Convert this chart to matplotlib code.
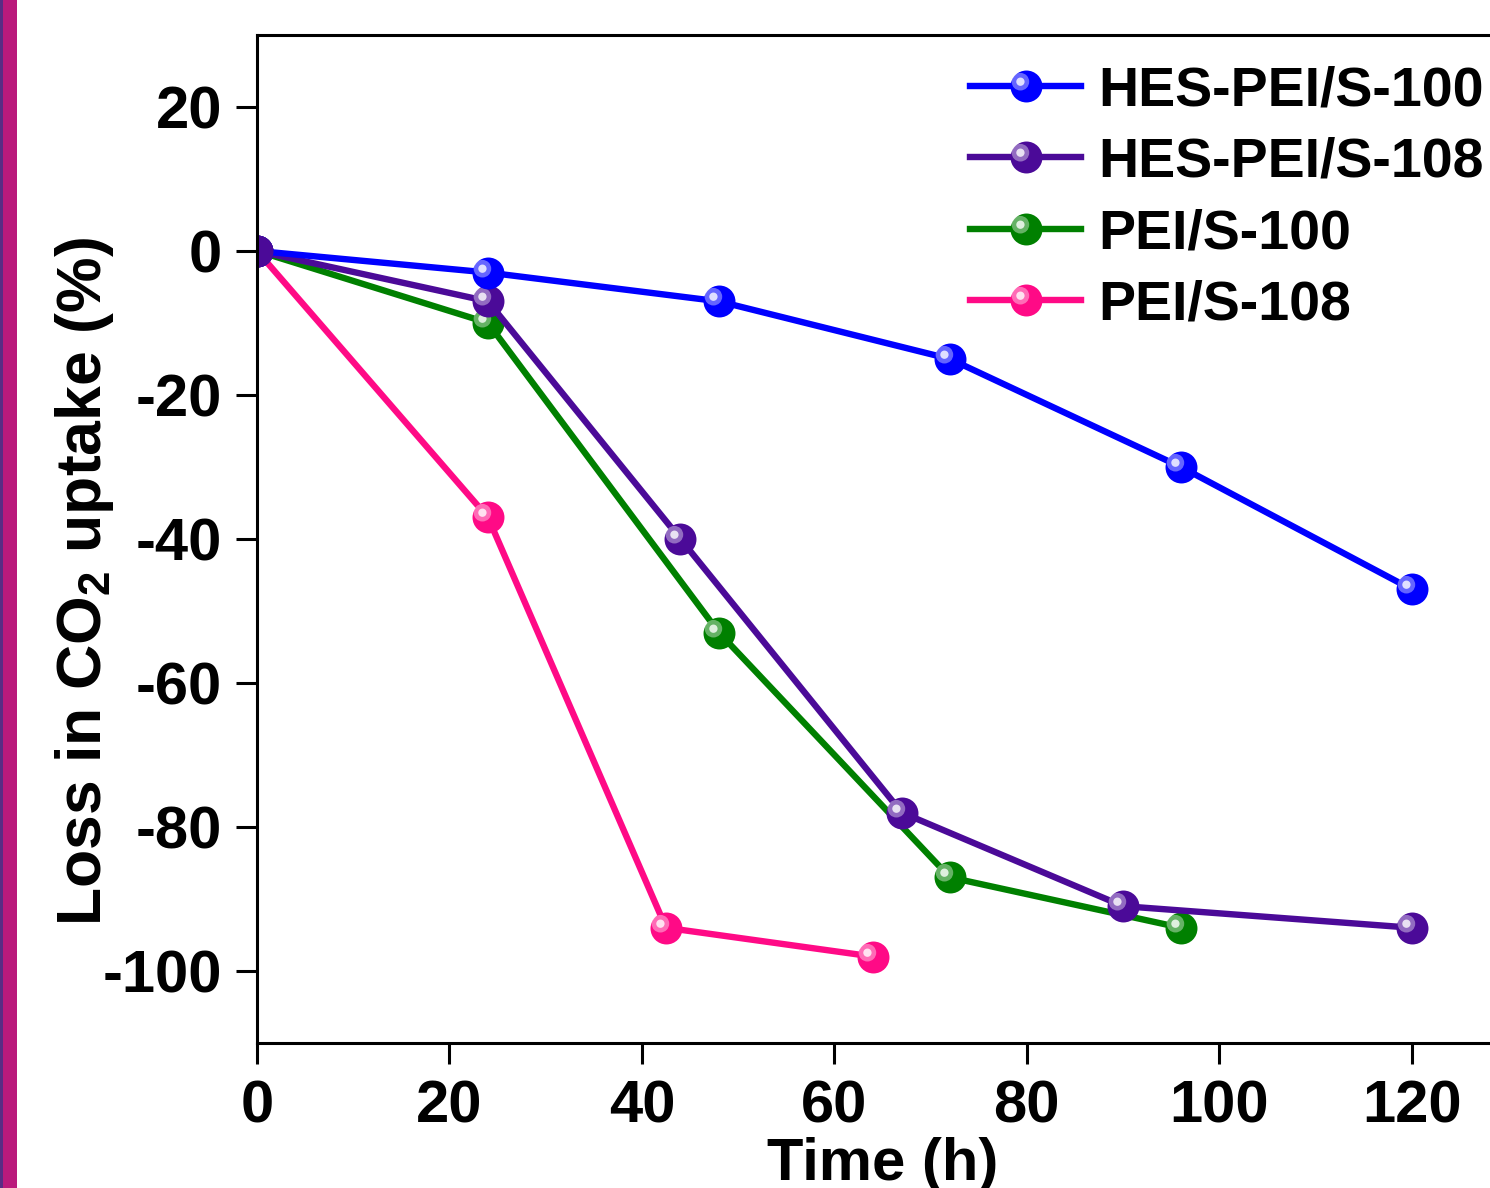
import numpy as np
import matplotlib
matplotlib.use('Agg')
import matplotlib.pyplot as plt
from matplotlib.path import Path
from matplotlib.patches import Rectangle

plt.rcParams['font.family'] = 'Liberation Sans'
plt.rcParams['font.weight'] = 'bold'
plt.rcParams['axes.labelweight'] = 'bold'
plt.rcParams['axes.unicode_minus'] = False
plt.rcParams['mathtext.fontset'] = 'custom'
plt.rcParams['mathtext.rm'] = 'Liberation Sans:bold'
plt.rcParams['mathtext.bf'] = 'Liberation Sans:bold'
plt.rcParams['mathtext.default'] = 'bf'

# data
hes100_t = [0, 24, 48, 72, 96, 120]
hes100_loss = [0, -3, -7, -15, -30, -47]
hes108_t = [0, 24, 44, 67, 90, 120]
hes108_loss = [0, -7, -40, -78, -91, -94]
pei100_t = [0, 24, 48, 72, 96]
pei100_loss = [0, -10, -53, -87, -94]
pei108_t = [0, 24, 42.5, 64]
pei108_loss = [0, -37, -94, -98]

series = [
    ("PEI/S-108", pei108_t, pei108_loss, "#FF0A86"),
    ("PEI/S-100", pei100_t, pei100_loss, "#008000"),
    ("HES-PEI/S-108", hes108_t, hes108_loss, "#4B0A98"),
    ("HES-PEI/S-100", hes100_t, hes100_loss, "#0000FF"),
]
legend_order = ["HES-PEI/S-100", "HES-PEI/S-108", "PEI/S-100", "PEI/S-108"]


def shifted_circle(cx, cy, r):
    # small circle off centre, with corner points so the marker keeps its scale
    circ = Path.circle((cx, cy), r)
    verts = np.vstack([[[-1, -1]], [[1, 1]], circ.vertices])
    codes = np.concatenate([[Path.MOVETO, Path.MOVETO], circ.codes])
    return Path(verts, codes)


glow = shifted_circle(-0.38, 0.3, 0.55)
spot = shifted_circle(-0.38, 0.3, 0.26)

fig = plt.figure(figsize=(14.9, 11.88), dpi=100)
fig.patches.append(Rectangle((0, 0), 17 / 1490, 1, transform=fig.transFigure,
                             facecolor="#BA1A7C", edgecolor="none"))
fig.patches.append(Rectangle((0, 0), 3 / 1490, 1, transform=fig.transFigure,
                             facecolor="#5A2C84", edgecolor="none"))

ax = fig.add_axes([0.1725, 0.1221, 0.8396, 0.8485])

handles = {}
ms = 23
for name, t, y, c in series:
    line, = ax.plot(t, y, '-o', color=c, lw=4.6, ms=ms, mec=c, mew=0)
    g, = ax.plot(t, y, ls='none', marker=glow, ms=ms, mfc='white', mec='none', alpha=0.4)
    s, = ax.plot(t, y, ls='none', marker=spot, ms=ms, mfc='white', mec='none', alpha=0.8)
    handles[name] = (line, g, s)

# the purple ball sits on top at the origin
ax.plot(hes108_t[:1], hes108_loss[:1], 'o', color="#4B0A98", ms=ms, mew=0)

ax.legend([handles[n] for n in legend_order], legend_order,
          loc='upper left', bbox_to_anchor=(0.570, 0.970), frameon=False,
          fontsize=40, handlelength=2.0, handletextpad=0.3, labelspacing=0.35,
          borderaxespad=0, borderpad=0)

ax.set_xlim(0, 130)
ax.set_ylim(-110, 30)
ax.set_xticks([0, 20, 40, 60, 80, 100, 120])
ax.set_yticks([20, 0, -20, -40, -60, -80, -100])
for sp in ax.spines.values():
    sp.set_linewidth(2.2)
ax.tick_params(axis='both', direction='out', length=15, width=2.2, labelsize=43)
ax.tick_params(axis='x', pad=11)
ax.tick_params(axis='y', pad=10)

ax.set_xlabel("Time (h)", fontsize=43, labelpad=2)
ax.set_ylabel("Loss in CO$_2$ uptake (%)", fontsize=45)
ax.yaxis.set_label_coords(-0.113, 0.458)

fig.savefig("out.png", dpi=100)
